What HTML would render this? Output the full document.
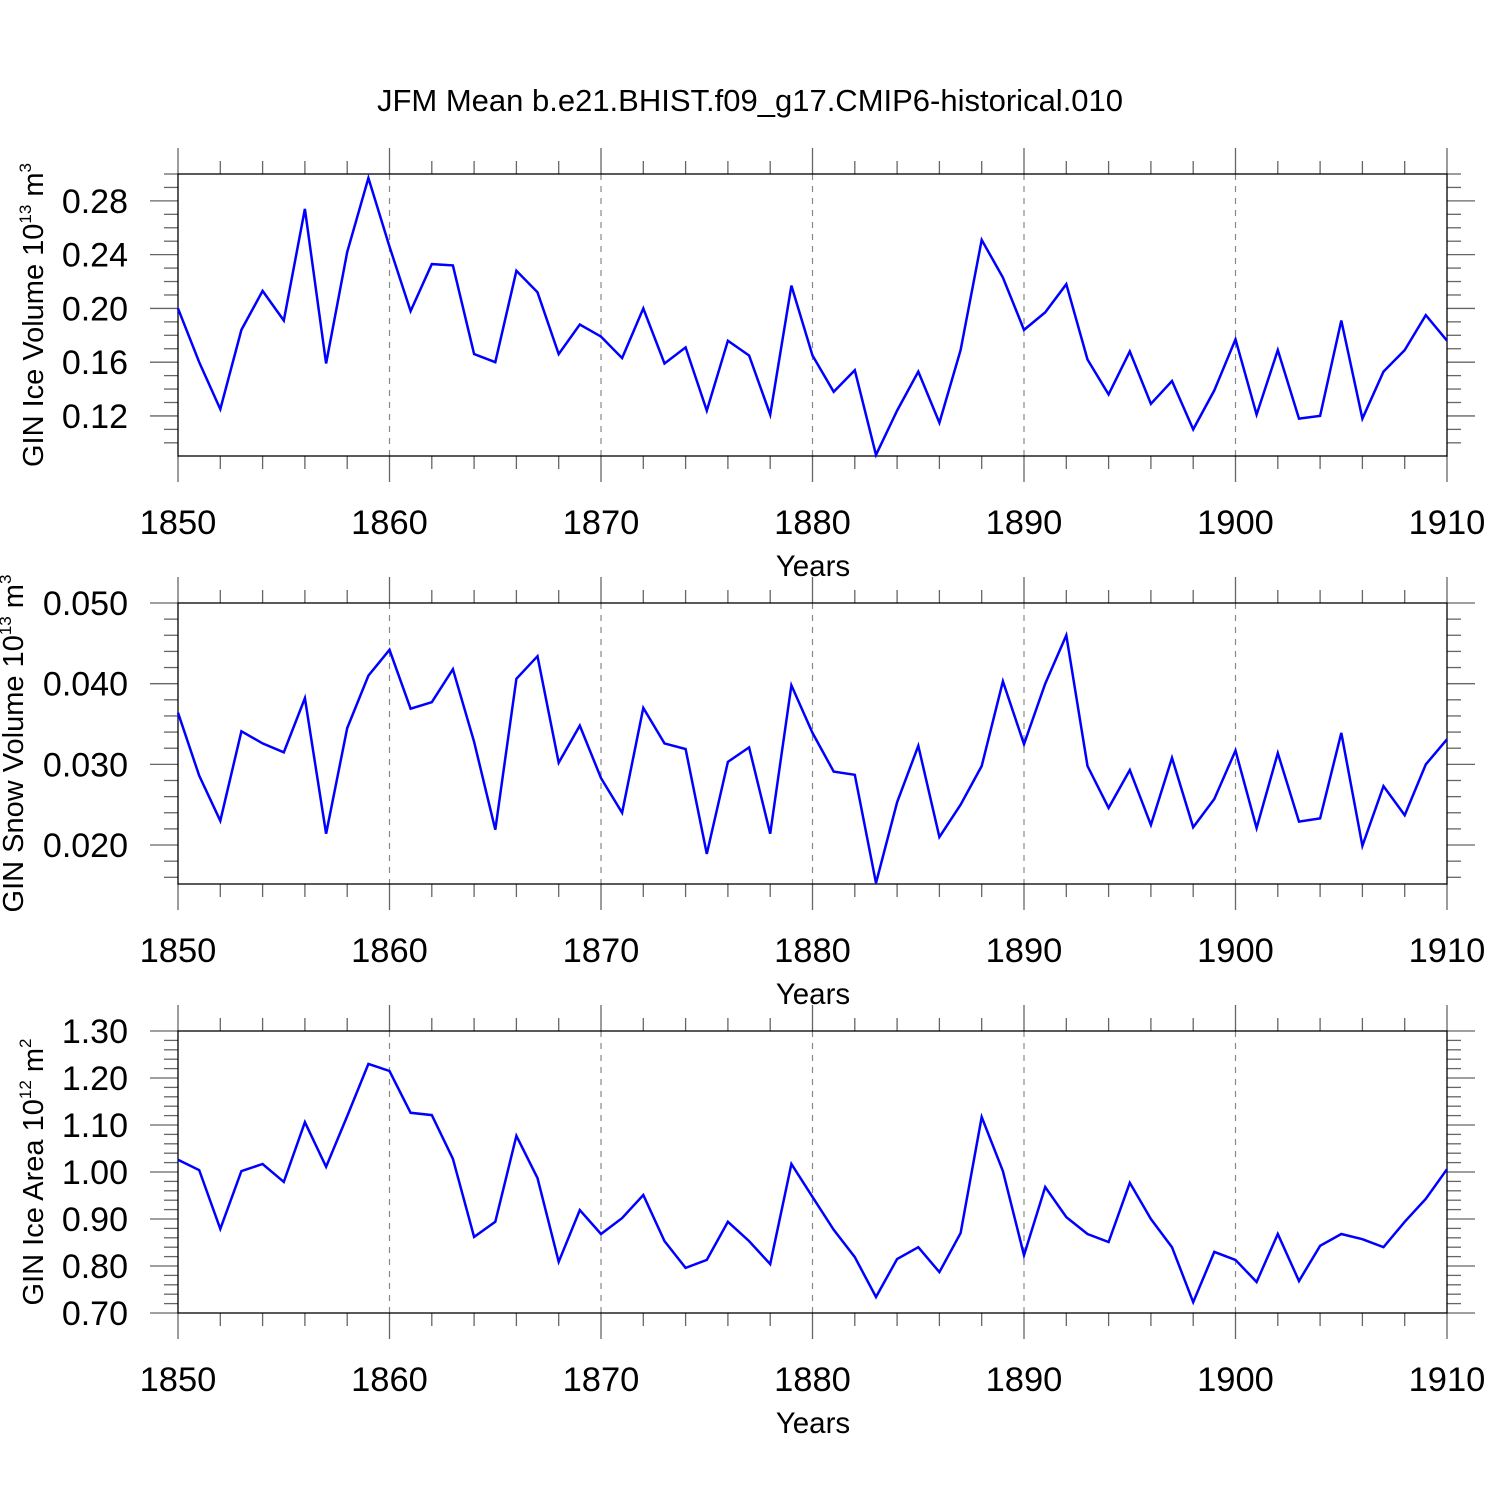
<!DOCTYPE html>
<html><head><meta charset="utf-8"><style>body{margin:0;background:#fff}svg{display:block}text{font-family:"Liberation Sans",sans-serif;fill:#000}</style></head>
<body>
<svg id="chart" width="1500" height="1500" viewBox="0 0 1500 1500" xmlns="http://www.w3.org/2000/svg">
<text x="750" y="111" font-size="31" text-anchor="middle">JFM Mean b.e21.BHIST.f09_g17.CMIP6-historical.010</text>
</svg>
<script>
const years=[];for(let y=1850;y<=1910;y++)years.push(y);
const iceVolume=[0.200,0.160,0.125,0.184,0.213,0.191,0.274,0.159,0.242,0.297,0.246,0.198,0.233,0.232,0.166,0.160,0.228,0.212,0.166,0.188,0.179,0.163,0.200,0.159,0.171,0.124,0.176,0.165,0.121,0.217,0.165,0.138,0.154,0.091,0.124,0.153,0.115,0.169,0.251,0.223,0.184,0.197,0.218,0.162,0.136,0.168,0.129,0.146,0.110,0.139,0.177,0.121,0.169,0.118,0.120,0.191,0.118,0.153,0.169,0.195,0.176];
const snowVolume=[0.0364,0.0286,0.0230,0.0341,0.0326,0.0315,0.0382,0.0214,0.0345,0.0410,0.0442,0.0369,0.0377,0.0418,0.0328,0.0219,0.0406,0.0434,0.0302,0.0348,0.0283,0.0240,0.0370,0.0326,0.0319,0.0189,0.0303,0.0321,0.0214,0.0398,0.0339,0.0291,0.0287,0.0153,0.0253,0.0323,0.0210,0.0250,0.0298,0.0403,0.0325,0.0400,0.0460,0.0298,0.0246,0.0293,0.0225,0.0308,0.0222,0.0257,0.0317,0.0221,0.0314,0.0229,0.0233,0.0339,0.0199,0.0273,0.0237,0.0300,0.0331];
const iceArea=[1.026,1.004,0.879,1.002,1.017,0.979,1.106,1.011,1.119,1.230,1.215,1.126,1.121,1.028,0.862,0.894,1.077,0.987,0.809,0.919,0.868,0.902,0.951,0.853,0.796,0.813,0.894,0.853,0.804,1.017,0.947,0.877,0.819,0.734,0.815,0.840,0.787,0.870,1.117,1.002,0.823,0.968,0.904,0.868,0.851,0.977,0.900,0.840,0.723,0.830,0.813,0.766,0.868,0.768,0.843,0.868,0.857,0.840,0.894,0.943,1.006];
const xTickLabels=["1850","1860","1870","1880","1890","1900","1910"];
const iceVolTicks=["0.12","0.16","0.20","0.24","0.28"];
const snowTicks=["0.020","0.030","0.040","0.050"];
const areaTicks=["0.70","0.80","0.90","1.00","1.10","1.20","1.30"];

const svg=document.getElementById('chart');const NS='http://www.w3.org/2000/svg';
function mk(tag,attrs,parent){const e=document.createElementNS(NS,tag);for(const k in attrs)e.setAttribute(k,attrs[k]);(parent||svg).appendChild(e);return e;}
const X0=178,X1=1447;
function xs(y){return X0+(y-1850)/60*(X1-X0);}
const panels=[
 {name:'ice-volume',data:iceVolume,top:174,bot:456,ymin:0.0902,ymax:0.30,ticks:iceVolTicks,minor:0.01,title:'GIN Ice Volume 10',sup:'13',unit:' m',usup:'3',tx:43},
 {name:'snow-volume',data:snowVolume,top:603,bot:884,ymin:0.01517,ymax:0.050,ticks:snowTicks,minor:0.002,title:'GIN Snow Volume 10',sup:'13',unit:' m',usup:'3',tx:23},
 {name:'ice-area',data:iceArea,top:1031,bot:1313,ymin:0.70,ymax:1.30,ticks:areaTicks,minor:0.02,title:'GIN Ice Area 10',sup:'12',unit:' m',usup:'2',tx:43}
];
panels.forEach(p=>{
 const g=mk('g',{});
 
 
 const ys=v=>p.bot-(v-p.ymin)/(p.ymax-p.ymin)*(p.bot-p.top);
 for(let y=1860;y<=1900;y+=10){const l=mk('line',{x1:xs(y),x2:xs(y),y1:p.top,y2:p.bot,stroke:'#888','stroke-width':1.2,'stroke-dasharray':'6,6'},g);
  }
 for(let y=1850;y<=1910;y+=2){const maj=(y%10===0);const L=maj?26:13;
  mk('line',{x1:xs(y),x2:xs(y),y1:p.top-L,y2:p.top,stroke:'#666','stroke-width':1.3},g);
  mk('line',{x1:xs(y),x2:xs(y),y1:p.bot,y2:p.bot+L,stroke:'#666','stroke-width':1.3},g);}
 const nmin=Math.ceil(p.ymin/p.minor-1e-6),nmax=Math.floor(p.ymax/p.minor+1e-6);
 const majVals=p.ticks.map(Number);
 for(let i=nmin;i<=nmax;i++){const v=i*p.minor;const maj=majVals.some(m=>Math.abs(m-v)<p.minor/10);const L=maj?28:14;const yy=ys(v);
  mk('line',{x1:X0-L,x2:X0,y1:yy,y2:yy,stroke:'#666','stroke-width':1.3},g);
  mk('line',{x1:X1,x2:X1+L,y1:yy,y2:yy,stroke:'#666','stroke-width':1.3},g);}
 p.ticks.forEach(t=>{const tx=mk('text',{x:128,y:ys(Number(t))+12,'font-size':34,'text-anchor':'end'},g);tx.textContent=t;
  });
 xTickLabels.forEach(t=>{const tx=mk('text',{x:xs(Number(t)),y:p.bot+78,'font-size':34.5,'text-anchor':'middle'},g);tx.textContent=t;
  });
 const xt=mk('text',{x:813,y:p.bot+120,'font-size':29.5,'text-anchor':'middle'},g);xt.textContent='Years';
 
 const fr=mk('rect',{x:X0,y:p.top,width:X1-X0,height:p.bot-p.top,fill:'none',stroke:'#000','stroke-width':1.3},g);
 
 const pts=p.data.map((v,i)=>xs(years[i]).toFixed(1)+','+ys(v).toFixed(1)).join(' ');
 const pl=mk('polyline',{points:pts,fill:'none',stroke:'#0000ff','stroke-width':2.5,'stroke-linejoin':'miter'},g);
 
 const cy=(p.top+p.bot)/2;
 const yt=mk('text',{x:0,y:0,'font-size':29,'text-anchor':'middle',transform:`translate(${p.tx},${cy}) rotate(-90)`},g);
 
 const a=mk('tspan',{},yt);a.textContent=p.title;
 const b=mk('tspan',{dy:-12,'font-size':17},yt);b.textContent=p.sup;
 const c=mk('tspan',{dy:12},yt);c.textContent=p.unit;
 const d=mk('tspan',{dy:-12,'font-size':17},yt);d.textContent=p.usup;
});
</script>
</body></html>
